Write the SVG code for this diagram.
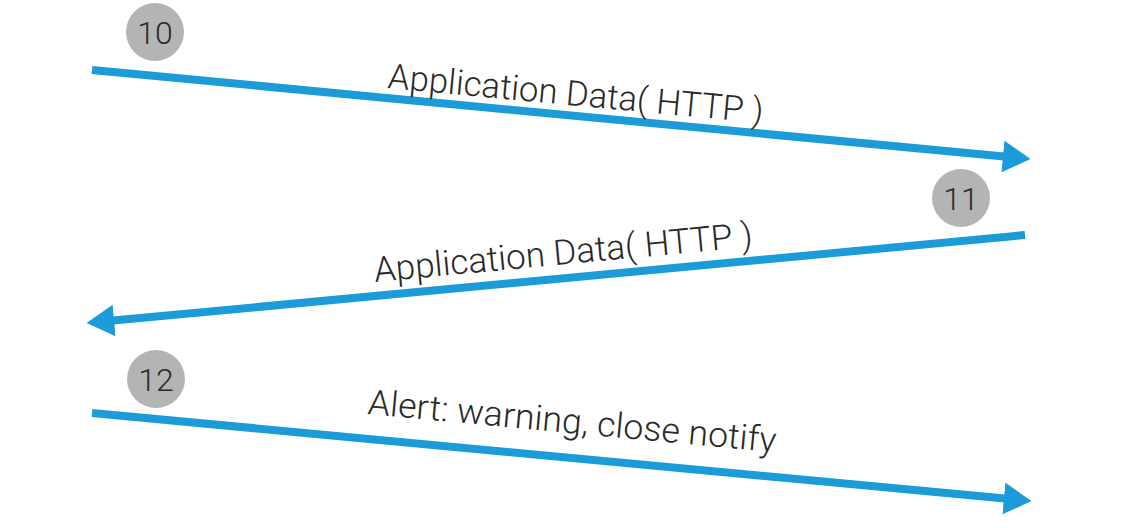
<svg xmlns="http://www.w3.org/2000/svg" width="1125" height="528" viewBox="0 0 1125 528">
<style>
.bg{fill:#ffffff}
.conn{stroke:#1b9bd7;stroke-width:8;fill:none;stroke-linecap:butt}
.badge{fill:#b4b4b4}
.num{font-family:Roboto,"Liberation Sans",Arial,sans-serif;font-weight:300;font-size:32px;fill:#2a2a2a;text-anchor:middle}
.lbl{font-family:Roboto,"Liberation Sans",Arial,sans-serif;font-weight:300;font-size:35px;fill:#2a2a2a}
</style>
<defs>
<marker id="arr" markerUnits="userSpaceOnUse" markerWidth="30" markerHeight="34" viewBox="0 -16 28 32" refX="1" refY="0" orient="auto">
<path d="M0,-15 L26,0 L0,15 z" fill="#1b9bd7"/>
</marker>
</defs>
<rect class="bg" x="0" y="0" width="1125" height="528"/>
<g id="connectors">
<line class="conn" x1="92" y1="70" x2="1004" y2="156.6" marker-end="url(#arr)"/>
<line class="conn" x1="1025" y1="235" x2="113" y2="320.6" marker-end="url(#arr)"/>
<line class="conn" x1="92" y1="413" x2="1005" y2="498.6" marker-end="url(#arr)"/>
</g>
<g id="label10">
<text class="lbl" x="387" y="88" transform="rotate(5.35 387 88)" textLength="377" lengthAdjust="spacingAndGlyphs">Application Data( HTTP )</text>
</g>
<g id="label11">
<text class="lbl" x="375" y="282" transform="rotate(-5.35 375 282)" textLength="380" lengthAdjust="spacingAndGlyphs">Application Data( HTTP )</text>
</g>
<g id="label12">
<text class="lbl" x="367" y="414" transform="rotate(5.35 367 414)" textLength="410" lengthAdjust="spacingAndGlyphs">Alert: warning, close notify</text>
</g>
<g id="step10">
<circle class="badge" cx="155" cy="32" r="29"/>
<text class="num" x="155" y="43.5">10</text>
</g>
<g id="step11">
<circle class="badge" cx="961" cy="198" r="29"/>
<text class="num" x="961" y="209.5">11</text>
</g>
<g id="step12">
<circle class="badge" cx="156" cy="379" r="29"/>
<text class="num" x="156" y="390.5">12</text>
</g>
</svg>
